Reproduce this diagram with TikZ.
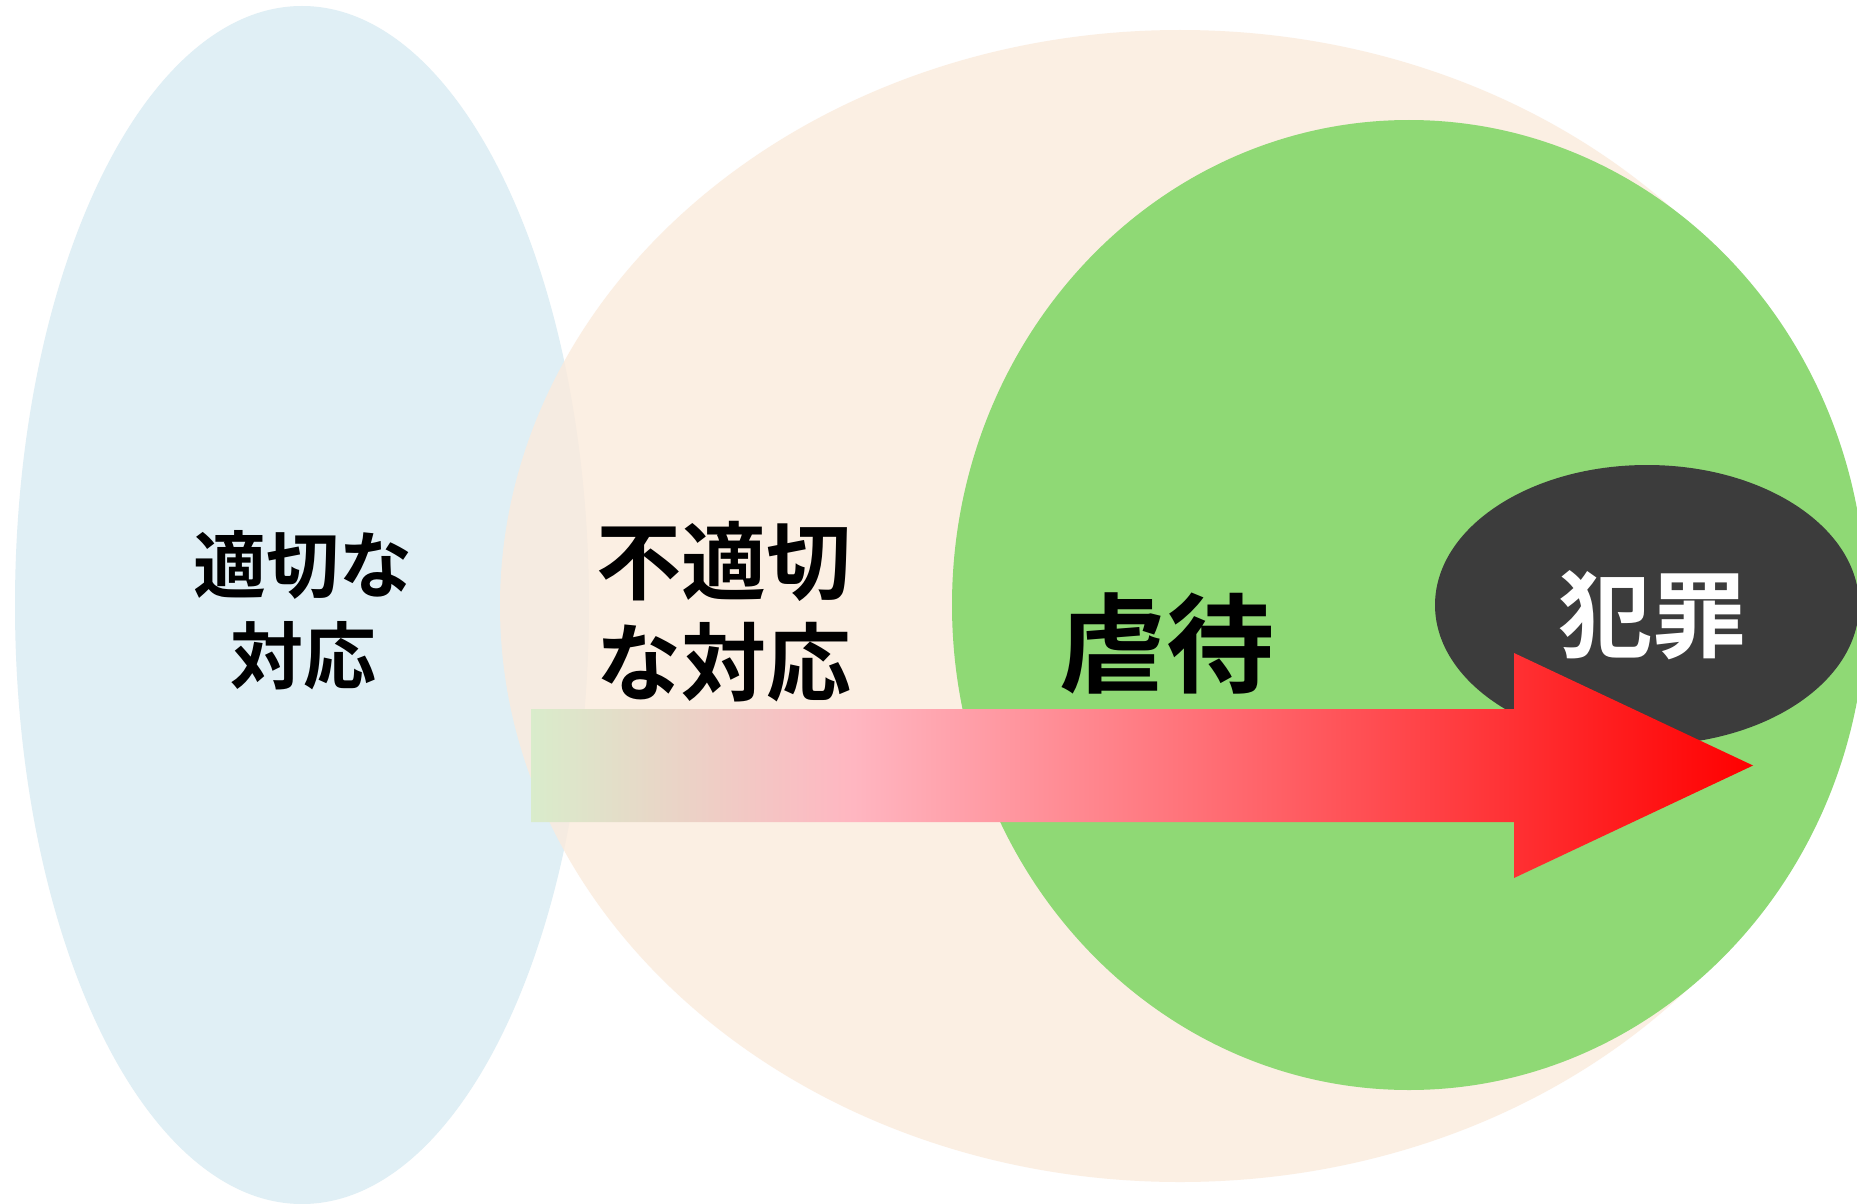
\documentclass[tikz,border=0pt]{standalone}
\usepackage{fontspec}
\newfontfamily\cjk{Noto Sans CJK JP Bold}
\definecolor{blueel}{HTML}{E0EFF5}
\definecolor{peachel}{HTML}{FBEBDC}
\definecolor{greenel}{HTML}{8FD975}
\definecolor{darkel}{HTML}{3C3C3C}
\definecolor{ag}{HTML}{D9ECCB}
\definecolor{ap}{HTML}{FFB6C1}
\definecolor{ar}{HTML}{FF0000}
\pgfdeclarehorizontalshading{arrowshade}{100bp}{color(0bp)=(ag); color(25bp)=(ag); color(38.2bp)=(ap); color(75bp)=(ar); color(100bp)=(ar)}
\tikzset{
  lbl/.style={inner sep=0pt, align=center},
}
\begin{document}
\begin{tikzpicture}[x=0.5pt,y=-0.5pt]
\clip (0,0) rectangle (1857,1204);
\fill[white] (0,0) rectangle (1857,1204);
% ellipses
\fill[blueel] (302,605) ellipse [x radius=287, y radius=599];
\fill[peachel, fill opacity=0.8] (1180,606) ellipse [x radius=680, y radius=576];
\fill[greenel] (1409,605) ellipse [x radius=457, y radius=485];
\fill[darkel] (1647,605) ellipse [x radius=212, y radius=140];
% arrow
\shade[shading=arrowshade] (531,709) -- (1514,709) -- (1514,653) -- (1753,765.5) -- (1514,878) -- (1514,822) -- (531,822) -- cycle;
% labels
\node[lbl, font=\cjk\fontsize{36.5}{45.5}\selectfont] (t1) at (303,610) {適切な\\対応};
\node[lbl, font=\cjk\fontsize{42.5}{50.5}\selectfont] (t2) at (724,612) {不適切\\な対応};
\node[lbl, font=\cjk\fontsize{54}{60}\selectfont] (t3) at (1166,643) {虐待};
\node[lbl, text=white, font=\cjk\fontsize{47}{56}\selectfont] (t4) at (1652,615) {犯罪};
\end{tikzpicture}
\end{document}
